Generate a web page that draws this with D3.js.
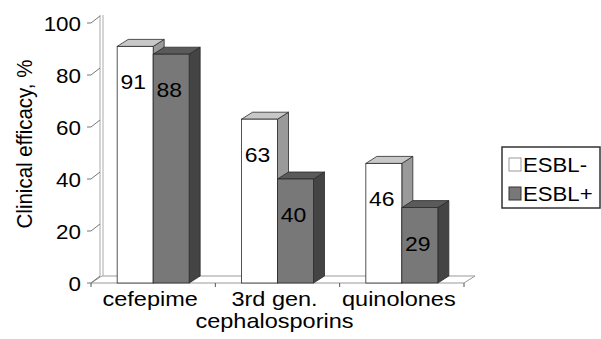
<!DOCTYPE html>
<html>
<head>
<meta charset="utf-8">
<script src="https://cdn.jsdelivr.net/npm/d3@7"></script>
<style>
  html, body { margin: 0; padding: 0; background: #fff; }
  svg { display: block; font-family: "Liberation Sans", Arial, sans-serif; }
</style>
</head>
<body>
<svg id="chart" width="601" height="339"></svg>
<script>
// Clinical efficacy of antibiotic classes by ESBL status
const categories = ["cefepime", "3rd gen. cephalosporins", "quinolones"];
const categoryLines = [["cefepime"], ["3rd gen.", "cephalosporins"], ["quinolones"]];
const seriesNames = ["ESBL-", "ESBL+"];
const esblNeg = [91, 63, 46];
const esblPos = [88, 40, 29];
const yTicks = [0, 20, 40, 60, 80, 100];
const yTitle = "Clinical efficacy, %";

const svg = d3.select("#chart");
const SX = 1.12;            // horizontal text stretch
const DX = 11, DY = -7;     // 3D depth offset

const y = d3.scaleLinear().domain([0, 100]).range([283, 23]);
const x = d3.scaleBand().domain(categories).range([91, 464]);
const xs = d3.scaleBand().domain(seriesNames).range([0, x.bandwidth()]).paddingOuter(0.727);

const styles = {
  "ESBL-": { front: "#ffffff", top: "#c8c8c8", side: "#9a9a9a" },
  "ESBL+": { front: "#787878", top: "#5a5a5a", side: "#444444" }
};

function stretchedText(g, str, px, py, size, anchor) {
  return g.append("text")
    .attr("transform", `translate(${px},${py}) scale(${SX},1)`)
    .attr("text-anchor", anchor || "middle")
    .attr("font-size", size)
    .attr("fill", "#000")
    .text(str);
}

const y0 = y(0);
const x0 = x.range()[0], x1 = x.range()[1];

// Floor
svg.append("polygon")
  .attr("points", [[x0, y0], [x1, y0], [x1 + DX, y0 + DY], [x0 + DX, y0 + DY]].join(" "))
  .attr("fill", "#fff").attr("stroke", "#999").attr("stroke-width", 1);

// Side wall
svg.append("line").attr("x1", x0 + DX - 2).attr("x2", x0 + DX - 2)
  .attr("y1", y(100) + DY - 1).attr("y2", y0 + DY).attr("stroke", "#aaa");
svg.append("line").attr("x1", x0 + DX + 1).attr("x2", x0 + DX + 1)
  .attr("y1", y(100) + DY - 1).attr("y2", y0 + DY).attr("stroke", "#aaa");

// Category boundary ticks under the floor
x.domain().forEach(c => {
  svg.append("line").attr("x1", x(c)).attr("x2", x(c))
    .attr("y1", y0).attr("y2", y0 + 4).attr("stroke", "#555");
});
svg.append("line").attr("x1", x1).attr("x2", x1)
  .attr("y1", y0).attr("y2", y0 + 4).attr("stroke", "#555");

// Y ticks: short stub plus slanted line onto the wall
const yAxis = svg.append("g");
yTicks.forEach(t => {
  const ty = y(t);
  yAxis.append("path")
    .attr("d", `M${x0 - 4},${ty} L${x0},${ty} L${x0 + DX - 2},${ty + DY}`)
    .attr("fill", "none").attr("stroke", "#777").attr("stroke-width", 1);
  stretchedText(yAxis, String(t), x0 - 10, ty + 7.5, 20, "end");
});

// Bars
function drawBar(g, bx, w, v, st) {
  const yt = y(v);
  g.append("polygon")
    .attr("points", [[bx + w, yt], [bx + w + DX, yt + DY], [bx + w + DX, y0 + DY], [bx + w, y0]].join(" "))
    .attr("fill", st.side).attr("stroke", "#2a2a2a").attr("stroke-width", 0.8);
  g.append("polygon")
    .attr("points", [[bx, yt], [bx + DX, yt + DY], [bx + w + DX, yt + DY], [bx + w, yt]].join(" "))
    .attr("fill", st.top).attr("stroke", "#2a2a2a").attr("stroke-width", 0.8);
  g.append("rect")
    .attr("x", bx).attr("y", yt).attr("width", w).attr("height", y0 - yt)
    .attr("fill", st.front).attr("stroke", "#2a2a2a").attr("stroke-width", 0.8);
}

const bars = svg.append("g");
categories.forEach((c, i) => {
  const vals = [esblNeg[i], esblPos[i]];
  seriesNames.forEach((s, j) => {
    drawBar(bars, x(c) + xs(s), xs.bandwidth(), vals[j], styles[s]);
  });
  seriesNames.forEach((s, j) => {
    const cx = x(c) + xs(s) + xs.bandwidth() / 2 - 2;
    stretchedText(bars, String(vals[j]), cx, y(vals[j]) + 43, 20.5);
  });
});

// Category labels
categoryLines.forEach((lines, i) => {
  const cx = x(categories[i]) + x.bandwidth() / 2 - 3;
  lines.forEach((ln, k) => {
    stretchedText(svg, ln, cx, 306 + k * 22, 21);
  });
});

// Y title
svg.append("text")
  .attr("transform", `translate(32,144) rotate(-90) scale(1,${SX})`)
  .attr("text-anchor", "middle")
  .attr("font-size", 20.5)
  .attr("fill", "#000")
  .text(yTitle);

// Legend
const lg = svg.append("g");
lg.append("rect").attr("x", 502).attr("y", 147).attr("width", 98).attr("height", 61)
  .attr("fill", "#fff").attr("stroke", "#333").attr("stroke-width", 1.5);
seriesNames.forEach((s, i) => {
  const ly = 158 + i * 29;
  lg.append("rect").attr("x", 509).attr("y", ly).attr("width", 12).attr("height", 13)
    .attr("fill", styles[s].front).attr("stroke", i === 0 ? "#999" : "#333").attr("stroke-width", 1);
  stretchedText(lg, s, 523, ly + 14, 19.8, "start");
});
</script>
</body>
</html>
